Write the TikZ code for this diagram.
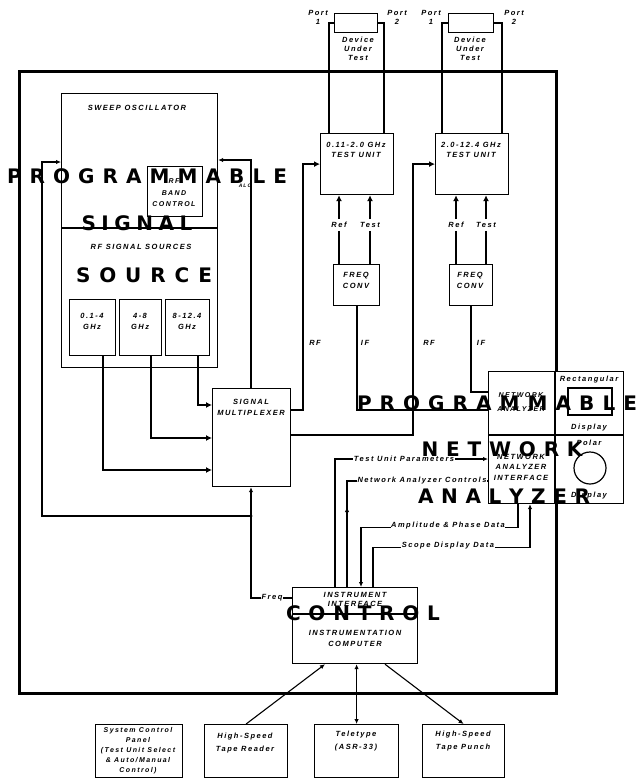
\documentclass[tikz,border=0pt]{standalone}
\usepackage{fontspec}
\usetikzlibrary{arrows.meta,calc}
\newfontfamily\labfont[LetterSpace=20]{Liberation Sans}
\newfontfamily\bigfont{DejaVu Sans}
\ExplSyntaxOn
\NewDocumentCommand\spreadword{mm}{\makebox[#1][s]{\tl_map_inline:nn{#2}{##1\hfil}\unskip}}
\ExplSyntaxOff
\begin{document}
\begin{tikzpicture}[x=1pt,y=-1pt,
  box/.style={draw, line width=1.2pt, fill=white, inner sep=0pt, anchor=north west, rectangle},
  frm/.style={draw, line width=2.8pt, inner sep=0pt, anchor=north west, rectangle},
  lbl/.style={font=\labfont\bfseries\itshape\fontsize{7.5}{10}\selectfont, inner sep=0.5pt, align=center},
  big/.style={font=\bigfont\bfseries\fontsize{20}{20}\selectfont, inner sep=0pt},
  sig/.style={line width=2.2pt},
  ctl/.style={line width=1.1pt},
  arr/.style={-{Latex[length=5pt,width=4.5pt]}},
  sarr/.style={-{Latex[length=6pt,width=6pt]}},
  darr/.style={{Latex[length=5pt,width=4.5pt]}-{Latex[length=5pt,width=4.5pt]}}]
\useasboundingbox (0,0) rectangle (637,782);
\fill[white] (0,0) rectangle (637,782);

% outer frame
\node[frm, minimum width=537pt, minimum height=622pt] (frame) at (18,70) {};

% boxes
\node[box, minimum width=43pt, minimum height=19pt] (dut1) at (334,13) {};
\node[box, minimum width=45pt, minimum height=19pt] (dut2) at (448,13) {};
\node[box, minimum width=156pt, minimum height=135pt] (sweep) at (61,93) {};
\node[box, minimum width=156pt, minimum height=139pt] (rfs) at (61,228) {};
\draw[line width=2.2pt] (rfs.north west) -- (rfs.north east);
\node[box, minimum width=55pt, minimum height=50pt] (band) at (147,166) {};
\node[box, minimum width=46pt, minimum height=56pt] (s1) at (69,299) {};
\node[box, minimum width=42pt, minimum height=56pt] (s2) at (119,299) {};
\node[box, minimum width=44pt, minimum height=56pt] (s3) at (165,299) {};
\node[box, minimum width=78pt, minimum height=98pt] (mux) at (212,388) {};
\node[box, minimum width=73pt, minimum height=61pt] (tu1) at (320,133) {};
\node[box, minimum width=73pt, minimum height=61pt] (tu2) at (435,133) {};
\node[box, minimum width=46pt, minimum height=41pt] (fc1) at (333,264) {};
\node[box, minimum width=43pt, minimum height=41pt] (fc2) at (449,264) {};
\node[box, minimum width=135pt, minimum height=132pt] (na) at (488,371) {};
\draw[line width=1.2pt] ($(na.north west)+(67,0)$) -- ($(na.south west)+(67,0)$);
\draw[line width=2.2pt] ($(na.north west)+(0,64)$) -- ($(na.north east)+(0,64)$);
\draw[line width=1.2pt] (568,388) rectangle (612,415);
\draw[line width=1.2pt] (590,468) circle (16pt);
\node[box, minimum width=125pt, minimum height=76pt] (comp) at (292,587) {};
\draw[line width=1.2pt] ($(comp.north west)+(0,27)$) -- ($(comp.north east)+(0,27)$);
\node[box, minimum width=87pt, minimum height=53pt] (scp) at (95,724) {};
\node[box, minimum width=83pt, minimum height=53pt] (htr) at (204,724) {};
\node[box, minimum width=84pt, minimum height=53pt] (tty) at (314,724) {};
\node[box, minimum width=82pt, minimum height=53pt] (htp) at (422,724) {};

% DUT connections
\draw[sig] (dut1.west) -| ([xshift=9pt]tu1.north west);
\draw[sig] (dut1.east) -| ([xshift=-10pt]tu1.north east);
\draw[sig] (dut2.west) -| ([xshift=7pt]tu2.north west);
\draw[sig] (dut2.east) -| ([xshift=-7pt]tu2.north east);

% Ref / Test
\node[lbl, inner sep=3pt] (ref1) at (339,225) {Ref};
\node[lbl, inner sep=3pt] (tst1) at (370,225) {Test};
\node[lbl, inner sep=3pt] (ref2) at (456,225) {Ref};
\node[lbl, inner sep=3pt] (tst2) at (486,225) {Test};
\foreach \l/\t/\f in {ref1/tu1/fc1,tst1/tu1/fc1,ref2/tu2/fc2,tst2/tu2/fc2}{
  \draw[sig] (\l.south) -- (\l |- \f.north);
  \draw[sig,sarr] (\l.north) -- (\l |- \t.south);
}

% IF lines
\draw[sig] (fc1.south) |- ($(na.north west)+(0,39)$);
\draw[sig] (fc2.south) |- ($(na.north west)+(0,21)$);

% RF lines
\draw[sig,sarr] ($(mux.north east)+(0,22)$) -| ($(tu1.west)+(-17,0)$) -- (tu1.west);
\draw[sig,sarr] ($(mux.north east)+(0,47)$) -| ($(tu2.west)+(-22,0)$) -- (tu2.west);

% sources to multiplexer
\draw[sig,sarr] ($(s1.south)+(10,0)$) |- ($(mux.north west)+(0,82)$);
\draw[sig,sarr] ($(s2.south)+(10,0)$) |- ($(mux.north west)+(0,50)$);
\draw[sig,sarr] ($(s3.south)+(10,0)$) |- ($(mux.north west)+(0,17)$);

% ALC
\draw[ctl,arr] ($(mux.north west)+(39,0)$) |- ($(sweep.north east)+(0,67)$);

% Freq
\coordinate (fj) at (251,516);
\draw[ctl] ($(comp.north west)+(0,11)$) -| (fj);
\draw[ctl,arr] (fj) -- (fj |- mux.south);
\draw[ctl,arr] (fj) -| ($(sweep.north west)+(-19,69)$) -- ($(sweep.north west)+(0,69)$);
\fill (fj) circle (1.6pt);
\node[lbl, fill=white] (freq) at (272,598) {Freq};

% computer to network analyzer
\draw[ctl,arr] ($(comp.north west)+(43,0)$) |- ($(na.north west)+(0,88)$);
\draw[ctl] ($(comp.north west)+(55,0)$) |- ($(na.north west)+(0,110)$);
\draw[ctl,arr] ($(comp.north west)+(55,0)$) -- ($(comp.north west)+(55,-80)$);
\draw[ctl,arr] ($(na.south west)+(30,0)$) -- ++(0,23) -| ($(comp.north west)+(69,0)$);
\draw[ctl,arr] ($(comp.north west)+(81,0)$) |- ($(na.south west)+(42,43)$) -- ($(na.south west)+(42,0)$);
\node[lbl, fill=white] (tup) at (404,459) {Test Unit Parameters};
\node[lbl, fill=white] (nac) at (422,481) {Network Analyzer Controls};
\node[lbl, fill=white] (apd) at (448,526) {Amplitude \& Phase Data};
\node[lbl, fill=white] (sdd) at (448,546) {Scope Display Data};

% peripherals
\draw[ctl,arr] (htr.north) -- ($(comp.south west)+(33,0)$);
\draw[ctl,darr] (tty.north) -- (tty.north |- comp.south);
\draw[ctl,arr] ($(comp.south west)+(93,0)$) -- (htp.north);

% texts
\node[lbl] (p11) at (318,17.5) {Port\\[-1pt]1};
\node[lbl] (p12) at (397,17.5) {Port\\[-1pt]2};
\node[lbl] (p21) at (431,17.5) {Port\\[-1pt]1};
\node[lbl] (p22) at (514,17.5) {Port\\[-1pt]2};
\node[lbl, font=\labfont\bfseries\itshape\fontsize{7.5}{9}\selectfont] (dut1t) at (358,49) {Device\\Under\\Test};
\node[lbl, font=\labfont\bfseries\itshape\fontsize{7.5}{9}\selectfont] (dut2t) at (470,49) {Device\\Under\\Test};
\node[lbl] (swt) at (137,108) {SWEEP OSCILLATOR};
\node[lbl, font=\labfont\bfseries\itshape\fontsize{7}{11.5}\selectfont] (bandt) at (174,193) {RF\\BAND\\CONTROL};
\node[lbl, font=\labfont\bfseries\itshape\fontsize{5}{5}\selectfont] (alc) at (245,186) {ALC};
\node[lbl] (rfst) at (141,247) {RF SIGNAL SOURCES};
\node[lbl, font=\labfont\bfseries\itshape\fontsize{7.5}{11}\selectfont] (s1t) at (92,321) {0.1-4\\GHz};
\node[lbl, font=\labfont\bfseries\itshape\fontsize{7.5}{11}\selectfont] (s2t) at (140,321) {4-8\\GHz};
\node[lbl, font=\labfont\bfseries\itshape\fontsize{7.5}{11}\selectfont] (s3t) at (187,321) {8-12.4\\GHz};
\node[lbl, font=\labfont\bfseries\itshape\fontsize{7.5}{11}\selectfont] (muxt) at (251,407) {SIGNAL\\MULTIPLEXER};
\node[lbl] (tu1t) at (356,150) {0.11-2.0 GHz\\TEST UNIT};
\node[lbl] (tu2t) at (471,150) {2.0-12.4 GHz\\TEST UNIT};
\node[lbl, font=\labfont\bfseries\itshape\fontsize{7.5}{11}\selectfont] (fc1t) at (356,280) {FREQ\\CONV};
\node[lbl, font=\labfont\bfseries\itshape\fontsize{7.5}{11}\selectfont] (fc2t) at (470,280) {FREQ\\CONV};
\node[lbl] (rf1t) at (315,343) {RF};
\node[lbl] (if1t) at (365,343) {IF};
\node[lbl] (rf2t) at (429,343) {RF};
\node[lbl] (if2t) at (481,343) {IF};
\node[lbl, font=\labfont\bfseries\itshape\fontsize{7}{14}\selectfont] (nat) at (521,402) {NETWORK\\ANALYZER};
\node[lbl] (rectt) at (589,380) {Rectangular};
\node[lbl] (disp1) at (589,428) {Display};
\node[lbl, font=\labfont\bfseries\itshape\fontsize{7.5}{10.5}\selectfont] (nait) at (521,467) {NETWORK\\ANALYZER\\INTERFACE};
\node[lbl] (polt) at (589,443) {Polar};
\node[lbl] (disp2) at (589,496) {Display};
\node[lbl, font=\labfont\bfseries\itshape\fontsize{7.5}{9}\selectfont] (iit) at (355,599.5) {INSTRUMENT\\INTERFACE};
\node[lbl, font=\labfont\bfseries\itshape\fontsize{7.5}{11}\selectfont] (ict) at (355,638.5) {INSTRUMENTATION\\COMPUTER};
\node[lbl, font=\labfont\bfseries\itshape\fontsize{7}{10}\selectfont] (scpt) at (138,751) {System Control\\Panel\\(Test Unit Select\\\& Auto/Manual\\Control)};
\node[lbl, font=\labfont\bfseries\itshape\fontsize{7.5}{13}\selectfont] (htrt) at (245,743.5) {High-Speed\\Tape Reader};
\node[lbl, font=\labfont\bfseries\itshape\fontsize{7.5}{13}\selectfont] (ttyt) at (356,741.5) {Teletype\\(ASR-33)};
\node[lbl, font=\labfont\bfseries\itshape\fontsize{7.5}{13}\selectfont] (htpt) at (463,741.5) {High-Speed\\Tape Punch};

% large overlay lettering
\node[big] (ov1) at (147,176) {\spreadword{280pt}{PROGRAMMABLE}};
\node[big] (ov2) at (137,223) {\spreadword{111pt}{SIGNAL}};
\node[big] (ov3) at (144,275) {\spreadword{136pt}{SOURCE}};
\node[big] (ov4) at (497,403) {\spreadword{280pt}{PROGRAMMABLE}};
\node[big] (ov5) at (502,449) {\spreadword{161pt}{NETWORK}};
\node[big] (ov6) at (504,496) {\spreadword{172pt}{ANALYZER}};
\node[big] (ov7) at (363,613) {\spreadword{154pt}{CONTROL}};
\end{tikzpicture}
\end{document}
